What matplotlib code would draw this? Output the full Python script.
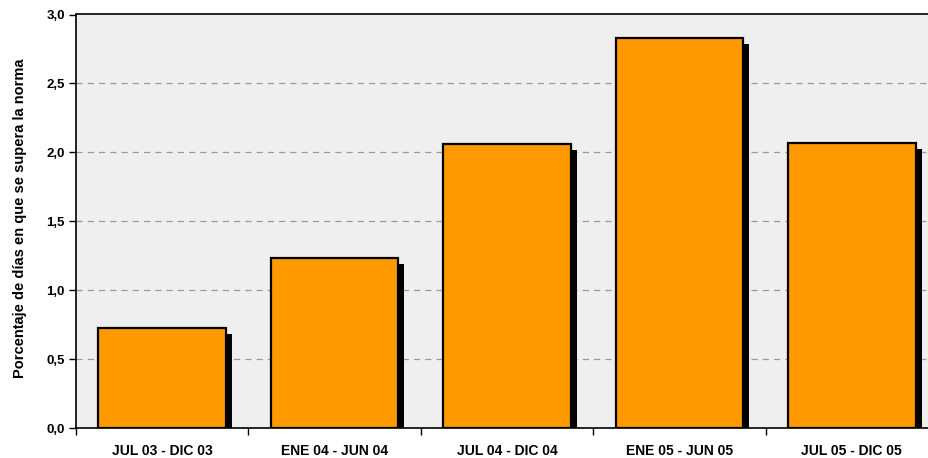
import matplotlib
matplotlib.use('Agg')
import matplotlib.pyplot as plt
import numpy as np

# datos
periodos = ['JUL 03 - DIC 03', 'ENE 04 - JUN 04', 'JUL 04 - DIC 04', 'ENE 05 - JUN 05', 'JUL 05 - DIC 05']
porcentaje = [0.73, 1.235, 2.06, 2.83, 2.07]
y_ticks = [0.0, 0.5, 1.0, 1.5, 2.0, 2.5, 3.0]
y_labels = ['0,0', '0,5', '1,0', '1,5', '2,0', '2,5', '3,0']

plt.rcParams['font.family'] = ['Liberation Sans', 'DejaVu Sans']

W, H = 929, 458
fig = plt.figure(figsize=(W / 100, H / 100), dpi=100)
fig.patch.set_facecolor('white')

# el area de trazado se sale un poco por la derecha, como en el original
left, right, top, bottom = 76, 938, 14.5, 428.3
ax = fig.add_axes([left / W, (H - bottom) / H, (right - left) / W, (bottom - top) / H])
ax.set_facecolor('#efefef')

x = np.arange(len(periodos))
ancho = 0.74

# sombra (desplazada ~6 px a la derecha y abajo)
dx = 6 / ((right - left) / 5)
dy = 6 / ((bottom - top) / 3)
ax.bar(x + dx, np.array(porcentaje) - dy, width=ancho, color='black', zorder=2)
ax.bar(x, porcentaje, width=ancho, color='#ff9900', edgecolor='black', linewidth=1.6, zorder=3)

ax.set_xlim(-0.5, len(periodos) - 0.5)
ax.set_ylim(0, 3.0)

for v in y_ticks[1:-1]:
    ax.axhline(v, color='#9a9a9a', linewidth=0.9, dashes=(5, 4), zorder=1)

ax.set_yticks(y_ticks)
ax.set_yticklabels(y_labels, fontsize=9.5, fontweight='bold')
ax.tick_params(axis='y', length=5, width=1, direction='out', pad=3)

ax.set_xticks(x)
ax.set_xticklabels(periodos, fontsize=10, fontweight='bold')
ax.tick_params(axis='x', which='major', length=0, pad=11)
ax.set_xticks(np.arange(-0.5, len(periodos)), minor=True)
ax.tick_params(axis='x', which='minor', length=5, width=1, direction='out')

for s in ['left', 'bottom', 'top']:
    ax.spines[s].set_color('black')
    ax.spines[s].set_linewidth(1.2)
ax.spines['right'].set_visible(False)

fig.text(20 / W, 1 - 218 / H, 'Porcentaje de días en que se supera la norma',
         rotation=90, ha='center', va='center', fontsize=10.5, fontweight='bold')

fig.savefig('out.png', dpi=100, facecolor='white')
